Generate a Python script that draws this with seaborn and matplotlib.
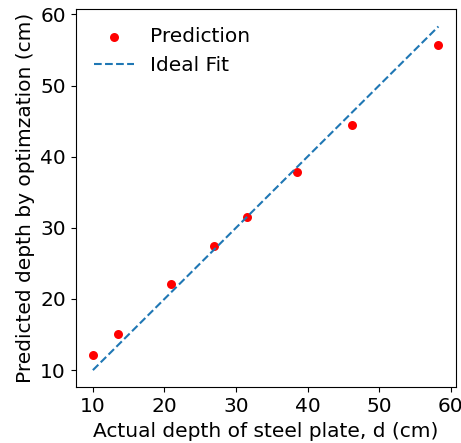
import matplotlib
matplotlib.use("Agg")
import matplotlib.pyplot as plt
import seaborn as sns
import pandas as pd

actual = [10.0, 13.5, 20.9, 26.9, 31.6, 38.5, 46.2, 58.3]
predicted = [12.1, 15.1, 22.1, 27.4, 31.5, 37.8, 44.5, 55.7]

df = pd.DataFrame({"actual": actual, "predicted": predicted})
ideal = pd.DataFrame({"x": [min(actual), max(actual)], "y": [min(actual), max(actual)]})

FS = 14.5

fig = plt.figure(figsize=(4.61, 4.43), dpi=100)
ax = fig.add_axes([0.164, 0.1257, 0.8245, 0.8533])

sns.scatterplot(data=df, x="actual", y="predicted", color="red", s=42,
                linewidth=0, label="Prediction", ax=ax)
sns.lineplot(data=ideal, x="x", y="y", linestyle="--", color="#1f77b4",
             label="Ideal Fit", ax=ax)

ax.set_xlim(7.585, 60.715)
ax.set_ylim(7.585, 60.715)
ax.set_xticks([10, 20, 30, 40, 50, 60])
ax.set_yticks([10, 20, 30, 40, 50, 60])
ax.tick_params(labelsize=FS)
ax.set_xlabel("Actual depth of steel plate, d (cm)", fontsize=FS)
ax.set_ylabel("Predicted depth by optimzation (cm)", fontsize=FS)
ax.legend(loc="upper left", fontsize=FS, frameon=False)

fig.savefig("out.png", dpi=100)
